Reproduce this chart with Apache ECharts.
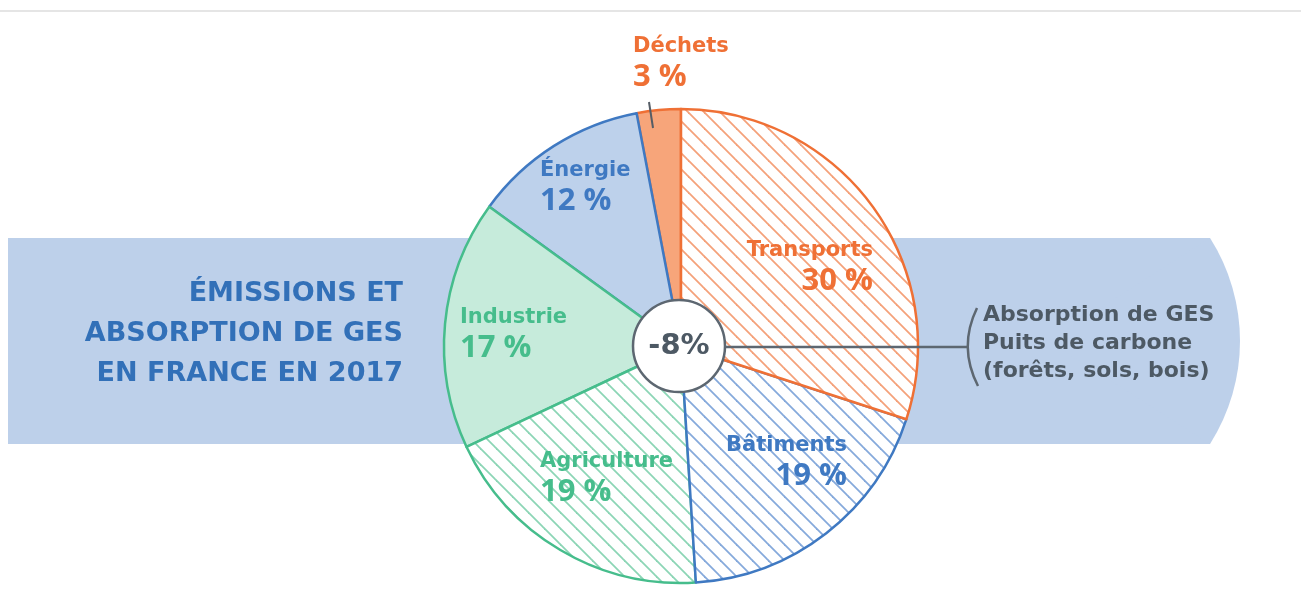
<!DOCTYPE html>
<html>
<head>
<meta charset="utf-8">
<script src="https://cdn.jsdelivr.net/npm/echarts@6/dist/echarts.min.js"></script>
<style>
  html, body { margin: 0; padding: 0; background: #fff; }
  #chart { width: 1301px; height: 608px; }
</style>
</head>
<body>
<div id="chart"></div>
<script>
// secteurs, dans le sens horaire depuis midi
const sectors = ['Transports', 'Bâtiments', 'Agriculture', 'Industrie', 'Énergie', 'Déchets']
const shares = [30, 19, 19, 17, 12, 3]
const absorption = -8
const titleLines = ['ÉMISSIONS ET', 'ABSORPTION DE GES', 'EN FRANCE EN 2017']
const sinkLines = ['Absorption de GES', 'Puits de carbone', '(forêts, sols, bois)']

const ORANGE = '#ef7035', BLUE = '#3f79c2', GREEN = '#46bd8c', GREY = '#4d5964'
const WIDE = '"DejaVu Sans", sans-serif'
const NUM = '"Open Sans", "DejaVu Sans", sans-serif'

// hachures en diagonale sur fond blanc
const hatch = (color) => {
  const s = 16
  const c = document.createElement('canvas')
  c.width = s
  c.height = s
  const ctx = c.getContext('2d')
  ctx.fillStyle = '#fff'
  ctx.fillRect(0, 0, s, s)
  ctx.strokeStyle = color
  ctx.lineWidth = 1.8
  for (let k = -1; k <= 1; k++) {
    ctx.beginPath()
    ctx.moveTo(-2, -2 + k * s)
    ctx.lineTo(s + 2, s + 2 + k * s)
    ctx.stroke()
  }
  return { image: c, repeat: 'repeat' }
}

const styles = [
  { fill: hatch('#f4a17a'), line: ORANGE, text: ORANGE },
  { fill: hatch('#85a9db'), line: BLUE, text: BLUE },
  { fill: hatch('#8cd5b5'), line: GREEN, text: GREEN },
  { fill: '#c6ebdb', line: GREEN, text: GREEN },
  { fill: '#bdd1eb', line: BLUE, text: BLUE },
  { fill: '#f7a57a', line: ORANGE, text: ORANGE }
]

// position des étiquettes (centre du bloc)
const labelPos = [
  { x: 873, y: 268, align: 'right' },
  { x: 847, y: 463, align: 'right' },
  { x: 540, y: 479, align: 'left' },
  { x: 460, y: 335, align: 'left' },
  { x: 540, y: 188, align: 'left' },
  { x: 633, y: 64, align: 'left' }
]

const chart = echarts.init(document.getElementById('chart'))

// tracé dans l'ordre inverse (sens antihoraire) pour que les bords se superposent comme sur l'original
const pieData = sectors.map((name, i) => ({
  name: name,
  value: shares[i],
  idx: i,
  itemStyle: { color: styles[i].fill, borderColor: styles[i].line, borderWidth: 2.5 },
  label: {
    color: styles[i].text,
    align: labelPos[i].align,
    rich: {
      n: { fontFamily: WIDE, fontSize: 21, fontWeight: 'bold', color: styles[i].text, lineHeight: 27, align: labelPos[i].align },
      v: { fontFamily: NUM, fontSize: 31, fontWeight: 'bold', color: styles[i].text, lineHeight: 34, align: labelPos[i].align }
    }
  }
})).reverse()

const graphic = [
  { type: 'line', z: 0, shape: { x1: 0, y1: 11, x2: 1301, y2: 11 }, style: { stroke: '#dcdcdc', lineWidth: 1.5 } },
  // bandeau avec bout arrondi
  { type: 'rect', z: 0, shape: { x: 8, y: 238, width: 1202, height: 206 }, style: { fill: '#bdd0ea' } },
  { type: 'sector', z: 0, shape: { cx: 1048, cy: 341, r: 192, startAngle: -0.566, endAngle: 0.566 }, style: { fill: '#bdd0ea' } },
  // trait de rappel des déchets
  { type: 'line', z: 100, shape: { x1: 649, y1: 102, x2: 653, y2: 128 }, style: { stroke: '#555d66', lineWidth: 2 } },
  { type: 'line', z: 100, shape: { x1: 726, y1: 347, x2: 968, y2: 347 }, style: { stroke: '#5d6771', lineWidth: 2.5 } },
  { type: 'bezierCurve', z: 100, shape: { x1: 977, y1: 308, cpx1: 958, cpy1: 347, x2: 978, y2: 386 }, style: { fill: null, stroke: '#5d6771', lineWidth: 2.5 } }
]
titleLines.forEach((t, i) => {
  graphic.push({
    type: 'text', z: 100, x: 403, y: 294 + i * 40,
    style: { text: t, fill: '#3270b8', font: 'bold 27px ' + WIDE, align: 'right', verticalAlign: 'middle' }
  })
})
sinkLines.forEach((t, i) => {
  graphic.push({
    type: 'text', z: 100, x: 983, y: 315 + i * 28,
    style: { text: t, fill: GREY, font: 'bold 22px ' + WIDE, align: 'left', verticalAlign: 'middle' }
  })
})

chart.setOption({
  animation: false,
  backgroundColor: '#fff',
  graphic: graphic,
  series: [
    {
      type: 'pie',
      z: 2,
      center: [681, 346],
      radius: [0, 237],
      startAngle: 90,
      clockwise: false,
      avoidLabelOverlap: false,
      silent: true,
      data: pieData,
      label: {
        show: true,
        position: 'outside',
        formatter: (p) => '{n|' + p.name + '}\n{v|' + p.value + ' %}'
      },
      labelLine: { show: false },
      labelLayout: (p) => {
        const pos = labelPos[sectors.length - 1 - p.dataIndex]
        return { x: pos.x, y: pos.y, align: pos.align, verticalAlign: 'middle' }
      }
    },
    {
      type: 'pie',
      z: 5,
      center: [679, 346],
      radius: [0, 46],
      silent: true,
      data: [{ name: 'Absorption', value: Math.abs(absorption) }],
      itemStyle: { color: '#fff', borderColor: '#5d6771', borderWidth: 2.5 },
      label: {
        show: true,
        position: 'center',
        formatter: () => absorption + '%',
        fontFamily: WIDE,
        fontSize: 29,
        fontWeight: 'bold',
        color: GREY
      },
      labelLine: { show: false }
    }
  ]
})
</script>
</body>
</html>
